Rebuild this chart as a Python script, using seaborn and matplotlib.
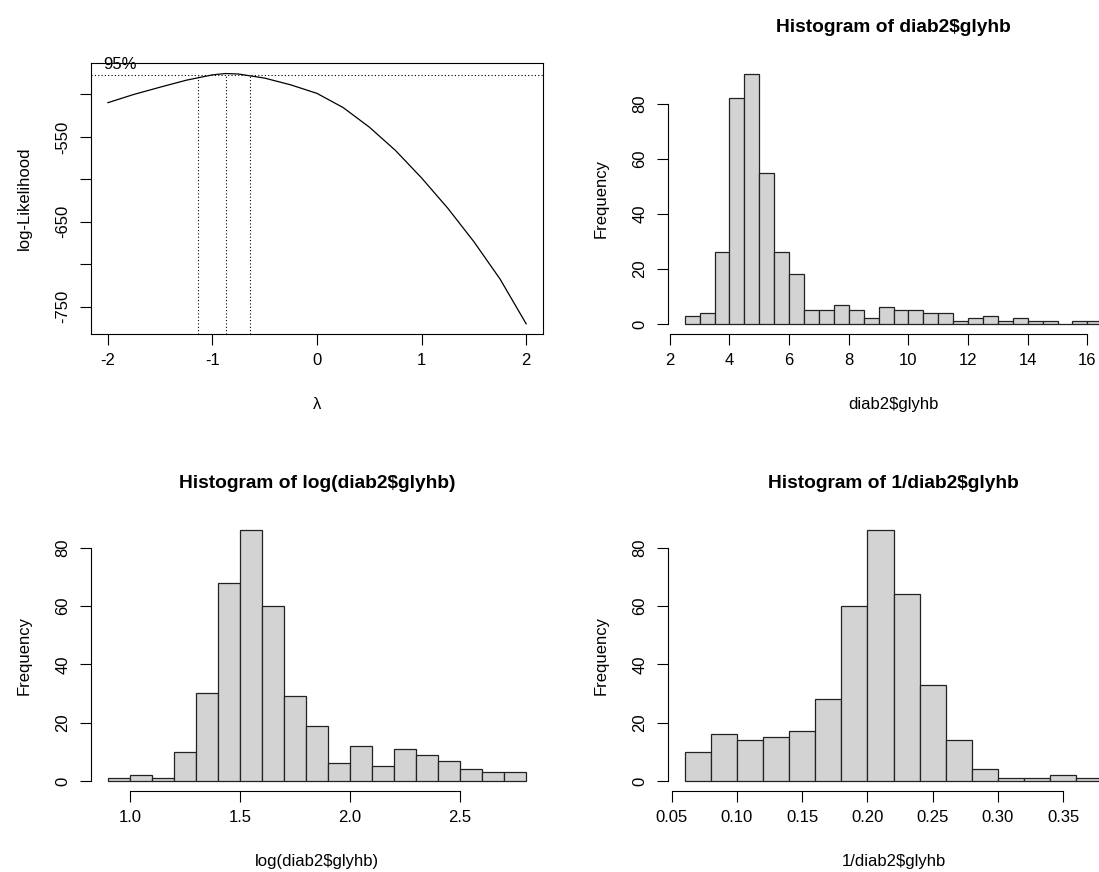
import seaborn as sns
import matplotlib.pyplot as plt
import numpy as np
import pandas as pd

# ---- Box-Cox profile log-likelihood ----
lam = [-2.0, -1.75, -1.5, -1.25, -1.0, -0.875, -0.75, -0.5, -0.25, 0.0,
       0.25, 0.5, 0.75, 1.0, 1.25, 1.5, 1.75, 2.0]
loglik = [-509.8, -500.0, -491.5, -483.3, -477.0, -475.4, -476.0, -480.8, -488.8, -498.8,
          -515.5, -538.5, -566.0, -598.4, -634.0, -673.5, -717.5, -770.3]
ci_lambda = [-1.136, -0.873, -0.636]   # lower limit, maximum, upper limit
ll_max = -475.4
ll_95 = -477.5

# ---- histogram counts ----
glyhb_breaks = np.arange(2.5, 16.51, 0.5)
glyhb_counts = [3, 4, 26, 82, 91, 55, 26, 18, 5, 5, 7, 5, 2, 6, 5, 5, 4, 4,
                1, 2, 3, 1, 2, 1, 1, 0, 1, 1]

log_breaks = np.arange(0.9, 2.801, 0.1)
log_counts = [1, 2, 1, 10, 30, 68, 86, 60, 29, 19, 6, 12, 5, 11, 9, 7, 4, 3, 3]

inv_breaks = np.arange(0.06, 0.3801, 0.02)
inv_counts = [10, 16, 14, 15, 17, 28, 60, 86, 64, 33, 14, 4, 1, 1, 2, 1]

sns.set_style("ticks")
plt.rcParams['font.family'] = ['Liberation Sans', 'DejaVu Sans']
plt.rcParams['font.size'] = 12
plt.rcParams['text.color'] = 'black'
plt.rcParams['axes.edgecolor'] = 'black'
plt.rcParams['axes.labelcolor'] = 'black'
plt.rcParams['xtick.color'] = 'black'
plt.rcParams['ytick.color'] = 'black'

W, H = 1099, 872
fig = plt.figure(figsize=(W / 100, H / 100), dpi=100)


def px_axes(x0, y0, x1, y1):
    # axes from pixel box (top-left origin)
    return fig.add_axes([x0 / W, 1 - y1 / H, (x1 - x0) / W, (y1 - y0) / H])


def style_ticks(ax):
    ax.tick_params(direction='out', length=7.9, width=0.8, labelsize=12, pad=6)
    ax.tick_params(axis='y', labelrotation=90, pad=7)
    for t in ax.get_yticklabels():
        t.set_va('center')


def r_range(lo, hi):
    ext = 0.04 * (hi - lo)
    return lo - ext, hi + ext


def draw_hist(ax, breaks, counts, title, xlabel, xticks, xfmt):
    breaks = [float(b) for b in breaks]
    mids = [(a + b) / 2 for a, b in zip(breaks[:-1], breaks[1:])]
    df = pd.DataFrame({'mid': mids, 'n': counts})
    sns.histplot(data=df, x='mid', weights='n', bins=breaks, color='#D3D3D3',
                 edgecolor='#222222', linewidth=0.9, alpha=1, ax=ax)
    ax.set_xlim(*r_range(breaks[0], breaks[-1]))
    ax.set_ylim(*r_range(0, max(counts)))
    ax.set_xticks(xticks)
    ax.set_xticklabels([xfmt.format(v) for v in xticks])
    ax.set_yticks([0, 20, 40, 60, 80])
    for s in ['top', 'right']:
        ax.spines[s].set_visible(False)
    ax.spines['bottom'].set_bounds(xticks[0], xticks[-1])
    ax.spines['left'].set_bounds(0, 80)
    for s in ['bottom', 'left']:
        ax.spines[s].set_linewidth(0.8)
    style_ticks(ax)
    ax.set_title(title, fontsize=13.8, fontweight='bold', pad=23)
    ax.set_xlabel(xlabel, fontsize=12, labelpad=21)
    ax.set_ylabel('Frequency', fontsize=12, labelpad=17)


# ---- top-left: Box-Cox ----
ax1 = px_axes(91, 63.5, 543, 334)
sns.lineplot(x=lam, y=loglik, color='black', linewidth=0.9, ax=ax1)
ax1.set_xlim(-2.16, 2.16)
ax1.set_ylim(*r_range(min(loglik), max(loglik)))
ylo = ax1.get_ylim()[0]
ax1.axhline(ll_95, color='black', linewidth=0.8, linestyle=(0, (1, 2)))
ax1.vlines([ci_lambda[0], ci_lambda[2]], ylo, ll_95, color='black',
           linewidth=0.8, linestyles=[(0, (1, 2))])
ax1.vlines([ci_lambda[1]], ylo, ll_max, color='black',
           linewidth=0.8, linestyles=[(0, (1, 2))])
ax1.text(-2.04, -465, '95%', fontsize=12, ha='left', va='center', clip_on=False)
ax1.set_xticks([-2, -1, 0, 1, 2])
ax1.set_xticklabels(['-2', '-1', '0', '1', '2'])
yt = [-750, -700, -650, -600, -550, -500]
ax1.set_yticks(yt)
ax1.set_yticklabels(['-750', '', '-650', '', '-550', ''])
for s in ax1.spines.values():
    s.set_linewidth(0.8)
style_ticks(ax1)
ax1.set_xlabel('λ', fontsize=12, labelpad=21)
ax1.set_ylabel('log-Likelihood', fontsize=12, labelpad=17)

# ---- top-right ----
ax2 = px_axes(668, 63.5, 1119, 334)
draw_hist(ax2, glyhb_breaks, glyhb_counts, 'Histogram of diab2$glyhb', 'diab2$glyhb',
          [2, 4, 6, 8, 10, 12, 14, 16], '{:d}')

# ---- bottom-left ----
ax3 = px_axes(91, 520, 543, 791)
draw_hist(ax3, log_breaks, log_counts, 'Histogram of log(diab2$glyhb)', 'log(diab2$glyhb)',
          [1.0, 1.5, 2.0, 2.5], '{:.1f}')

# ---- bottom-right ----
ax4 = px_axes(668, 520, 1119, 791)
draw_hist(ax4, inv_breaks, inv_counts, 'Histogram of 1/diab2$glyhb', '1/diab2$glyhb',
          [0.05, 0.10, 0.15, 0.20, 0.25, 0.30, 0.35], '{:.2f}')

fig.savefig('out.png', dpi=100)
